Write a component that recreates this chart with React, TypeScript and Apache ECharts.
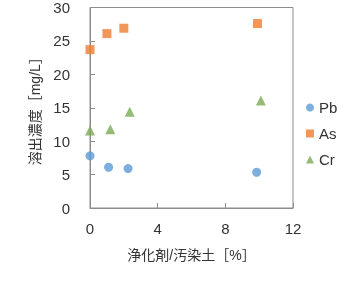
import React, { useEffect, useRef } from "react";
import * as echarts from "echarts";

const seriesNames = ["Pb", "As", "Cr"];
const pbData: [number, number][] = [[0, 7.8], [1.1, 6.1], [2.25, 5.9], [9.85, 5.35]];
const asData: [number, number][] = [[0, 23.7], [1.0, 26.1], [2.0, 26.9], [9.9, 27.6]];
const crData: [number, number][] = [[0, 11.6], [1.2, 11.8], [2.35, 14.4], [10.1, 16.1]];
const xAxisTitle = "浄化剤/汚染土［%］";
const yAxisTitle = "溶出濃度［mg/L］";

const colors = ["#5B9BD5", "#ED7D31", "#7BAA55"];
const symbols = ["circle", "rect", "triangle"];
const FONT = "'Liberation Sans', 'Noto Sans CJK JP', sans-serif";

export default function App() {
  const ref = useRef<HTMLDivElement>(null);
  useEffect(() => {
    if (!ref.current) return;
    const chart = echarts.init(ref.current, undefined, { renderer: "svg" });
    const datas = [pbData, asData, crData];
    chart.setOption({
      animation: false,
      textStyle: { fontFamily: FONT },
      grid: {
        left: 90,
        right: 59,
        top: 6,
        bottom: 74,
        show: true,
        borderColor: "#8c8c8c",
        borderWidth: 1,
        backgroundColor: "transparent",
      },
      legend: {
        orient: "vertical",
        left: 301,
        top: 95,
        itemWidth: 8,
        itemHeight: 8,
        itemGap: 11,
        textStyle: { fontSize: 15, color: "#333333", fontFamily: FONT },
        data: seriesNames.map((n, i) => ({ name: n, icon: symbols[i] })),
      },
      xAxis: {
        type: "value",
        min: 0,
        max: 12,
        interval: 4,
        name: xAxisTitle,
        nameLocation: "middle",
        nameGap: 40,
        nameTextStyle: { fontSize: 14, color: "#333333", fontFamily: FONT },
        axisLine: { show: true, lineStyle: { color: "#8c8c8c" } },
        axisTick: { show: true, inside: true, length: 5, lineStyle: { color: "#8c8c8c" } },
        axisLabel: { fontSize: 15, color: "#333333", margin: 13, fontFamily: FONT },
        splitLine: { show: false },
      },
      yAxis: {
        type: "value",
        min: 0,
        max: 30,
        interval: 5,
        name: yAxisTitle,
        nameLocation: "middle",
        nameGap: 45,
        nameTextStyle: { fontSize: 14, color: "#333333", fontFamily: FONT },
        axisLine: { show: true, lineStyle: { color: "#8c8c8c" } },
        axisTick: { show: true, inside: true, length: 5, lineStyle: { color: "#8c8c8c" } },
        axisLabel: { fontSize: 15, color: "#333333", margin: 20, fontFamily: FONT },
        splitLine: { show: false },
      },
      series: seriesNames.map((n, i) => ({
        name: n,
        type: "scatter",
        data: datas[i],
        symbol: symbols[i],
        symbolSize: i === 2 ? 10 : 9,
        itemStyle: { color: colors[i] },
      })),
    });
    return () => chart.dispose();
  }, []);
  return <div ref={ref} style={{ position: "fixed", left: 0, top: 0, width: 352, height: 282 }} />;
}
